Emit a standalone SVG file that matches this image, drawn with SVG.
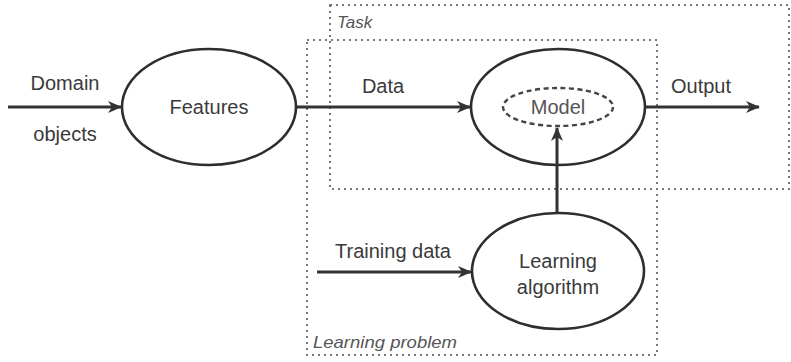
<svg xmlns="http://www.w3.org/2000/svg" width="791" height="362" viewBox="0 0 791 362">
<defs>
<style>
.t{font-family:"Liberation Sans",Arial,sans-serif;font-size:20px;fill:#3a3a3a;text-anchor:middle}
.lab{font-family:"Liberation Sans",Arial,sans-serif;font-size:17px;font-style:italic;fill:#555}
.node{fill:none;stroke:#2e2e2e;stroke-width:2.6}
.box{fill:none;stroke:#777;stroke-width:2;stroke-dasharray:2 4}
.edge{fill:none;stroke:#333;stroke-width:3}
</style>
<marker id="arr" viewBox="0 0 14 12" refX="13" refY="6" markerWidth="14" markerHeight="12" markerUnits="userSpaceOnUse" orient="auto">
<path d="M0,0 L14,6 L0,12 L4,6 Z" fill="#333"/>
</marker>
</defs>
<rect width="791" height="362" fill="#fff"/>
<g id="task-box">
<rect class="box" x="330" y="5" width="459" height="184"/>
<text class="lab" x="337" y="28">Task</text>
</g>
<g id="learning-problem-box">
<rect class="box" x="307" y="40" width="350" height="315"/>
<text class="lab" x="313" y="348" textLength="144" lengthAdjust="spacingAndGlyphs">Learning problem</text>
</g>
<g id="connectors">
<line class="edge" x1="8" y1="107" x2="121" y2="107" marker-end="url(#arr)"/>
<line class="edge" x1="296" y1="107" x2="470" y2="107" marker-end="url(#arr)"/>
<line class="edge" x1="645" y1="107" x2="759" y2="107" marker-end="url(#arr)"/>
<line class="edge" x1="557" y1="213" x2="557" y2="128" marker-end="url(#arr)"/>
<line class="edge" x1="317" y1="272" x2="471" y2="272" marker-end="url(#arr)"/>
<text class="t" x="65" y="90">Domain</text>
<text class="t" x="65" y="141">objects</text>
<text class="t" x="383" y="93">Data</text>
<text class="t" x="701" y="93">Output</text>
<text class="t" x="393" y="258">Training data</text>
</g>
<g id="features">
<ellipse class="node" cx="209" cy="107" rx="87" ry="58"/>
<text class="t" x="209" y="114">Features</text>
</g>
<g id="model-container">
<ellipse class="node" cx="558" cy="107" rx="87" ry="58"/>
</g>
<g id="model">
<ellipse cx="558" cy="107" rx="55" ry="19" fill="none" stroke="#444" stroke-width="2.4" stroke-dasharray="5 3.5"/>
<text class="t" x="558" y="114" style="fill:#555">Model</text>
</g>
<g id="learning-algorithm">
<ellipse class="node" cx="558" cy="271" rx="86" ry="58"/>
<text class="t" x="558" y="268">Learning</text>
<text class="t" x="558" y="294">algorithm</text>
</g>
</svg>
